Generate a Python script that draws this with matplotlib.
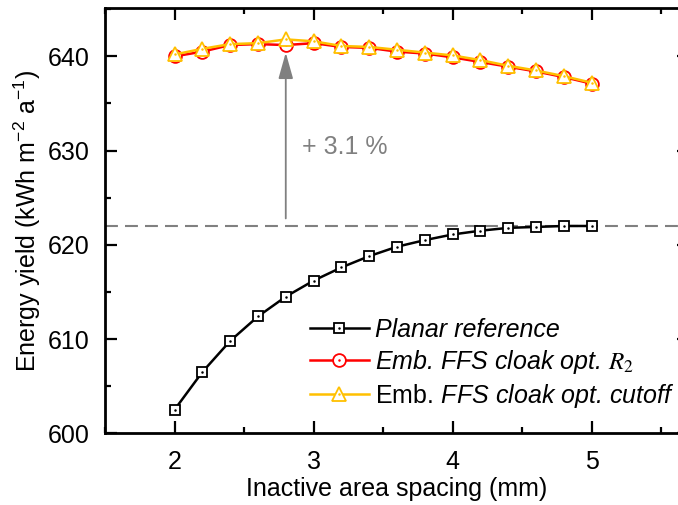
import matplotlib
matplotlib.use("Agg")
import matplotlib.pyplot as plt
from matplotlib.legend_handler import HandlerTuple
from matplotlib.ticker import MultipleLocator

# Inactive area spacing (mm)
spacing = [2.0, 2.2, 2.4, 2.6, 2.8, 3.0, 3.2, 3.4, 3.6, 3.8, 4.0, 4.2, 4.4, 4.6, 4.8, 5.0]

# Energy yield (kWh m^-2 a^-1)
planar = [602.5, 606.5, 609.8, 612.4, 614.5, 616.2, 617.6, 618.8,
          619.8, 620.5, 621.1, 621.5, 621.8, 621.9, 622.0, 622.0]
cloak_r2 = [640.0, 640.5, 641.2, 641.3, 641.2, 641.4, 641.0, 640.9,
            640.5, 640.3, 639.9, 639.4, 638.9, 638.4, 637.8, 637.1]
cloak_cutoff = [640.2, 640.8, 641.3, 641.4, 641.8, 641.6, 641.1, 641.0,
                640.7, 640.4, 640.1, 639.6, 639.0, 638.5, 637.9, 637.2]

reference_level = 622.0
gain_x = 2.8
gain_top = 640.4
gain_label = "+ 3.1 %"

x_ticks = [2, 3, 4, 5]
y_ticks = [600, 610, 620, 630, 640]

plt.rcParams["font.family"] = ["Liberation Sans", "DejaVu Sans"]
plt.rcParams["font.size"] = 18
plt.rcParams["mathtext.fontset"] = "custom"
plt.rcParams["mathtext.rm"] = "Liberation Sans"
plt.rcParams["mathtext.it"] = "Liberation Sans:italic"

RED = "#FF0000"
YELLOW = "#FFC000"
GREY = "#808080"

fig = plt.figure(figsize=(6.78, 5.05), dpi=100)
ax = fig.add_axes([105 / 678, (505 - 433.3) / 505, 584 / 678, 425 / 505])

series = [
    (planar, "black", "s", 7.2, "Planar reference"),
    (cloak_r2, RED, "o", 9.2, "Emb. FFS cloak opt. $R_2$"),
    (cloak_cutoff, YELLOW, "^", 10.0, r"$\mathrm{Emb.}\,$FFS cloak opt. cutoff"),
]

handles = []
labels = []
for z, (vals, col, mk, ms, lab) in enumerate(series):
    ln, = ax.plot(spacing, vals, color=col, lw=1.8, marker=mk, ms=ms,
                  mfc="white", mec=col, mew=1.3, zorder=3 + z)
    dot, = ax.plot(spacing, vals, ls="none", marker="o", ms=1.8,
                   mfc=col, mec=col, mew=0, zorder=3 + z)
    handles.append((ln, dot))
    labels.append(lab)

ax.axhline(reference_level, color=GREY, lw=1.5, ls=(0, (6.2, 3.4)), zorder=2)

ax.annotate("", xy=(gain_x, gain_top), xytext=(gain_x, reference_level + 0.8),
            arrowprops=dict(arrowstyle="-|>,head_length=1.6,head_width=0.45",
                            mutation_scale=10, color=GREY, lw=1.3,
                            shrinkA=0, shrinkB=0),
            zorder=2)
ax.text(gain_x + 0.115, 630.4, gain_label, color=GREY, ha="left", va="center")

ax.set_xlim(1.5, 5.7)
ax.set_ylim(600, 645.1)
ax.set_xticks(x_ticks)
ax.set_yticks(y_ticks)
ax.xaxis.set_minor_locator(MultipleLocator(0.5))
ax.yaxis.set_minor_locator(MultipleLocator(5))

for s in ax.spines.values():
    s.set_linewidth(2.0)
ax.tick_params(which="both", direction="in", top=True, right=True, width=1.6)
ax.tick_params(which="major", length=8.5, pad=11)
ax.tick_params(which="minor", length=4.5)
ax.tick_params(axis="x", which="major", pad=12)

ax.set_xlabel("Inactive area spacing (mm)", labelpad=2)
ax.set_ylabel(r"Energy yield (kWh m$\mathregular{^{-2}}$ a$\mathregular{^{-1}}$)")
ax.yaxis.set_label_coords(-62 / 584, 0.5)

leg = ax.legend(handles, labels, handler_map={tuple: HandlerTuple(ndivide=1, pad=0)},
                loc="upper left", bbox_to_anchor=((313 - 105) / 584 - 0.005, (433.3 - 318) / 425),
                frameon=False, handlelength=2.35, handletextpad=0.25,
                labelspacing=0.24, borderpad=0, borderaxespad=0, fontsize=18)
for t in leg.get_texts():
    t.set_fontstyle("italic")
leg.get_texts()[1].set_math_fontfamily("stix")

fig.savefig("out.png", dpi=100)
